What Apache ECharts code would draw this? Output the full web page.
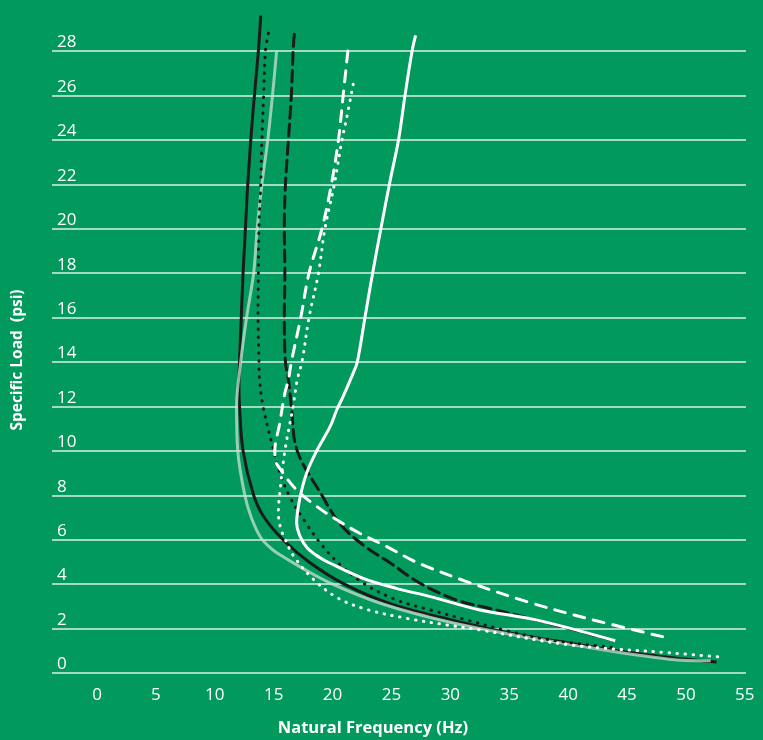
<!DOCTYPE html>
<html>
<head>
<meta charset="utf-8">
<script src="https://cdn.jsdelivr.net/npm/echarts@6/dist/echarts.min.js"></script>
<style>
  html, body { margin: 0; padding: 0; background: #01995c; }
  #chart { width: 763px; height: 740px; }
</style>
</head>
<body>
<div id="chart"></div>
<script>
// [frequency Hz, specific load psi]
const blackSolid = [[13.9,29.6],[13.7,28],[13.2,25],[12.8,22],[12.6,20],[12.4,18],[12.25,16],[12.1,14],[12.05,13],[12.1,12],[12.4,10],[13.3,8],[14.2,7],[15.8,6],[18,5],[21,4],[25,3.1],[30,2.4],[35,1.8],[40,1.35],[44.1,1.0],[48.6,0.7],[52.6,0.5]]
const greySolid = [[15.25,28],[14.9,26],[14.5,24],[14,22],[13.6,20],[13.3,18],[12.7,16],[12.2,14],[11.85,12],[11.95,10],[12.55,8],[13.1,7],[13.9,6.1],[14.8,5.6],[15.6,5.3],[17.5,4.7],[19.8,4.05],[24,3.15],[28.3,2.5],[32.5,2.0],[40,1.3],[48.6,0.62],[52.1,0.55]]
const blackDotted = [[14.55,28.8],[14.3,28],[14.15,26],[14.0,24],[13.9,22],[13.75,20],[13.7,18],[13.67,16],[13.75,14],[13.8,13.2],[14.1,12],[15.0,10],[15.4,9.2],[16.3,8],[17.8,6.7],[19.1,5.76],[20.5,4.95],[22.6,4.05],[25.4,3.29],[28.3,2.84],[31.4,2.39],[34.5,1.94],[38.5,1.49],[43.8,1.15]]
const blackDashed = [[16.75,28.75],[16.65,28],[16.5,26],[16.25,24],[16.0,22],[15.9,20],[15.95,18],[15.9,16],[16.0,14],[16.25,13.2],[16.5,12],[17.0,10],[19.1,8],[20.6,6.73],[22.6,5.76],[24.9,4.95],[27.4,4.05],[30.5,3.29],[33,2.95],[37.3,2.39],[44,1.45]]
const whiteDotted = [[21.75,26.5],[21.2,25],[20.8,24],[20.15,22],[19.35,20],[18.8,18],[18.0,16],[17.4,14],[17.0,13.2],[16.65,12],[15.95,10],[15.5,8],[15.4,7.2],[15.6,6.5],[16.0,6],[16.65,5.3],[18.4,4.2],[20.5,3.36],[22.9,2.86],[26.3,2.46],[29.7,2.16],[32.5,1.94],[40.2,1.26],[48.6,0.91],[52.7,0.73]]
const whiteDashed = [[21.3,28],[20.9,26],[20.5,24],[19.9,22],[19.1,20],[18.0,18],[17.3,16],[16.5,14],[16.25,13.2],[15.95,12.6],[15.5,11.2],[15.1,10],[15.1,9.7],[15.8,9.0],[16.95,8.24],[18.65,7.5],[20.35,6.9],[22.3,6.29],[24.6,5.69],[26.7,5.09],[28.0,4.79],[31.2,4.15],[36.5,3.21],[41.6,2.46],[48.3,1.6]]
const whiteSolid = [[27.05,28.7],[26.75,28],[26.15,26],[25.6,24],[24.9,22.2],[24.1,20],[23.4,18],[22.75,16],[22.1,14],[21.75,13.5],[20.9,12.45],[20.35,11.84],[19.8,11.1],[18.65,10],[17.8,9],[17.2,7.8],[16.95,6.75],[17.2,6.2],[17.9,5.6],[18.9,5.2],[19.8,4.94],[22.6,4.26],[25.4,3.81],[28.3,3.44],[32.5,2.84],[37.3,2.39],[44,1.45]]

const xTicks = [0, 5, 10, 15, 20, 25, 30, 35, 40, 45, 50, 55]

const font = '"Open Sans", "Noto Sans", sans-serif'

function line(data, color, type, width) {
  return {
    type: 'line',
    data: data,
    smooth: 0.35,
    showSymbol: false,
    lineStyle: { color: color, width: width || 3, type: type, cap: type === 'solid' ? 'butt' : 'round' },
  }
}

const chart = echarts.init(document.getElementById('chart'))
chart.setOption({
  animation: false,
  backgroundColor: '#01995c',
  grid: { left: 52, right: 17, top: 6.6, bottom: 67 },
  xAxis: {
    type: 'value',
    min: -3.82,
    max: 55.1,
    axisLine: { show: false },
    axisTick: { show: false },
    splitLine: { show: false },
    axisLabel: {
      customValues: xTicks,
      color: '#fff',
      fontFamily: font,
      fontSize: 17,
      margin: 14,
    },
  },
  yAxis: {
    type: 'value',
    min: 0,
    max: 30,
    interval: 2,
    axisLine: { show: false },
    axisTick: { show: false },
    splitLine: {
      showMaxLine: false,
      lineStyle: { color: 'rgba(255,255,255,0.85)', width: 1.5 },
    },
    axisLabel: {
      inside: true,
      showMaxLabel: false,
      margin: 5,
      verticalAlign: 'bottom',
      padding: [0, 0, 0, 0],
      color: '#fff',
      fontFamily: font,
      fontSize: 17,
    },
  },
  graphic: [
    {
      type: 'text',
      x: 373, y: 728,
      style: { text: 'Natural Frequency (Hz)', fill: '#fff', font: 'bold 16.5px ' + font, align: 'center', verticalAlign: 'middle' },
    },
    {
      type: 'text',
      x: 18, y: 360,
      rotation: Math.PI / 2,
      style: { text: 'Specific Load  (psi)', fill: '#fff', font: 'bold 15.5px ' + font, align: 'center', verticalAlign: 'middle' },
    },
  ],
  series: [
    line(blackSolid, '#1b1b1b', 'solid'),
    line(greySolid, 'rgba(200,225,210,0.75)', 'solid'),
    line(blackDotted, '#1b1b1b', [0.5, 7.5]),
    line(blackDashed, '#1b1b1b', [12, 6]),
    line(whiteDotted, '#ffffff', [0.5, 7.5]),
    line(whiteDashed, '#ffffff', [11, 9]),
    line(whiteSolid, '#ffffff', 'solid'),
  ],
})
</script>
</body>
</html>
